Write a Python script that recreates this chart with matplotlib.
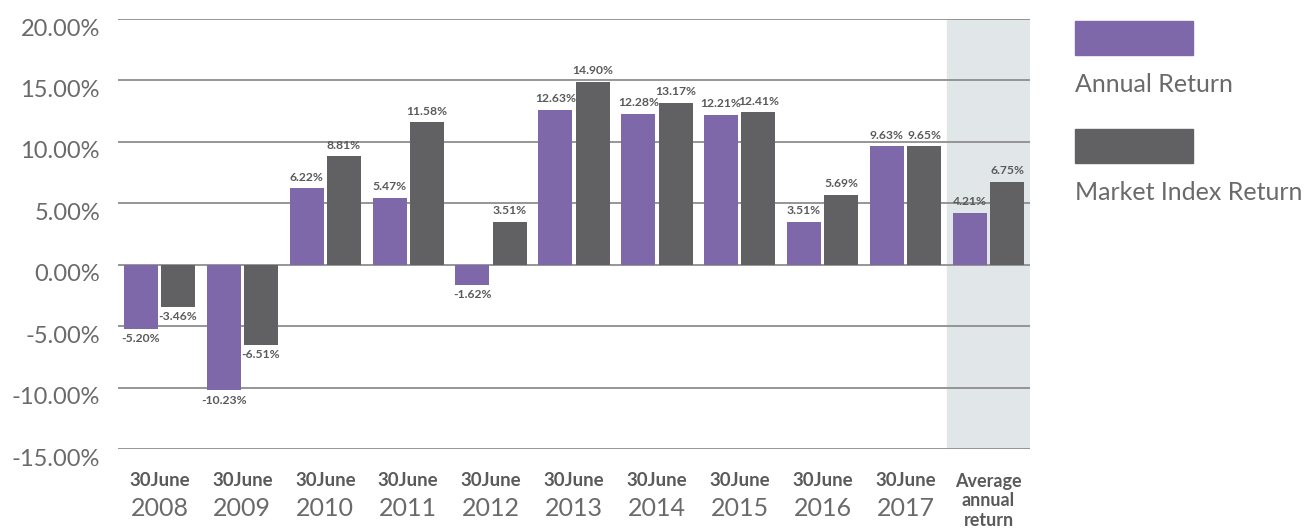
import matplotlib.pyplot as plt
import matplotlib.transforms as mtransforms
from matplotlib.patches import Rectangle
import numpy as np

plt.rcParams['font.family'] = ['Lato', 'DejaVu Sans']

# data
years = ["2008", "2009", "2010", "2011", "2012", "2013", "2014", "2015", "2016", "2017"]
annual = [-5.20, -10.23, 6.22, 5.47, -1.62, 12.63, 12.28, 12.21, 3.51, 9.63, 4.21]
market = [-3.46, -6.51, 8.81, 11.58, 3.51, 14.90, 13.17, 12.41, 5.69, 9.65, 6.75]
yticks = [20, 15, 10, 5, 0, -5, -10, -15]

purple = "#7f68aa"
grey = "#616163"
txt = "#5a5a5a"
txt2 = "#6a6a6a"

fig = plt.figure(figsize=(13.13, 5.29), dpi=100)
ax = fig.add_axes([118 / 1313, 1 - 449 / 529, (1030 - 118) / 1313, (449 - 19) / 529])

x = np.arange(len(annual))
w = 0.41
off = 0.225

ax.axvspan(len(annual) - 1.5, len(annual) - 0.5, color="#e1e6e8", zorder=0)
for t in yticks:
    ax.axhline(t, color="#8e8e8e", lw=1.3, zorder=1)

b1 = ax.bar(x - off, annual, w, color=purple, zorder=2)
b2 = ax.bar(x + off, market, w, color=grey, zorder=2)

for bars, vals in ((b1, annual), (b2, market)):
    for b, v in zip(bars, vals):
        cx = b.get_x() + b.get_width() / 2
        if v >= 0:
            ax.annotate(f"{v:.2f}%", (cx, v), xytext=(0, 4), textcoords="offset points",
                        ha="center", va="bottom", fontsize=8.7, fontweight="bold", color=txt)
        else:
            ax.annotate(f"{v:.2f}%", (cx, v), xytext=(0, -3), textcoords="offset points",
                        ha="center", va="top", fontsize=8.7, fontweight="bold", color=txt)

ax.set_xlim(-0.5, len(annual) - 0.5)
ax.set_ylim(-15, 20)
ax.set_yticks(yticks)
ax.set_yticklabels([f"{t:.2f}%" for t in yticks], fontsize=17, color=txt2)
ax.tick_params(axis="y", length=0, pad=13)
shift = mtransforms.ScaledTranslation(0, -8 / 100, fig.dpi_scale_trans)
for lab in ax.get_yticklabels():
    lab.set_transform(lab.get_transform() + shift)
ax.set_xticks([])
for s in ax.spines.values():
    s.set_visible(False)

# category labels under the axis
trans = mtransforms.blended_transform_factory(ax.transData, fig.transFigure)
for i, yr in enumerate(years):
    ax.text(i, 1 - 481 / 529, "30June", transform=trans, ha="center", va="center",
            fontsize=13.5, fontweight="bold", color=txt)
    ax.text(i, 1 - 508 / 529, yr, transform=trans, ha="center", va="center",
            fontsize=18, color=txt2)
for k, line in enumerate(["Average", "annual", "return"]):
    ax.text(len(annual) - 1, 1 - (481 + 20 * k) / 529, line, transform=trans, ha="center",
            va="center", fontsize=13, fontweight="bold", color=txt)

# legend
for y0, col, lab, ty in ((21, purple, "Annual Return", 85), (129, grey, "Market Index Return", 193)):
    fig.add_artist(Rectangle((1075 / 1313, 1 - (y0 + 34) / 529), 118 / 1313, 34 / 529,
                             transform=fig.transFigure, color=col))
    fig.text(1075 / 1313, 1 - ty / 529, lab, ha="left", va="center", fontsize=18,
             color=txt2)

fig.savefig("out.png", dpi=100)
